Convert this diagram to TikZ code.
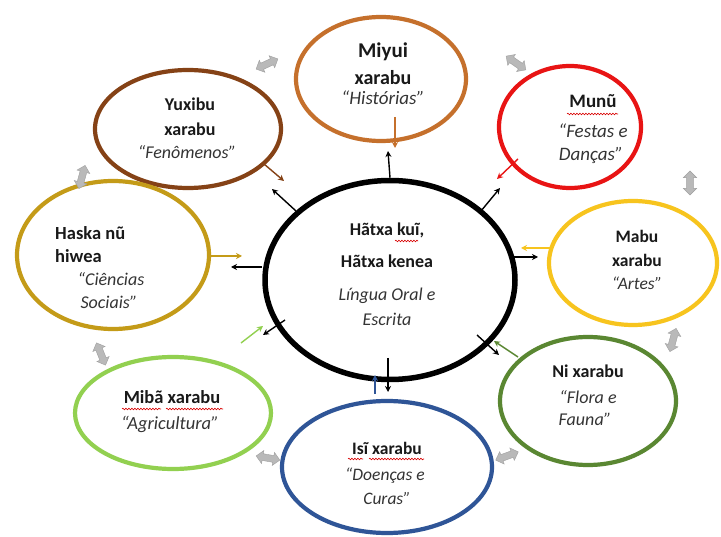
\documentclass[tikz,border=0pt]{standalone}
\usepackage{fontspec}
\setmainfont{Carlito}
\usetikzlibrary{shapes.geometric,shapes.arrows,arrows.meta,decorations.pathmorphing}
\definecolor{cMiyui}{RGB}{197,112,44}
\definecolor{cMunu}{RGB}{232,20,20}
\definecolor{cYux}{RGB}{133,66,22}
\definecolor{cHaska}{RGB}{196,155,24}
\definecolor{cMabu}{RGB}{247,196,30}
\definecolor{cNi}{RGB}{90,135,50}
\definecolor{cIsi}{RGB}{47,85,151}
\definecolor{cMiba}{RGB}{146,208,80}
\definecolor{txb}{RGB}{25,25,25}
\definecolor{txi}{RGB}{52,52,52}
\tikzset{
  ell/.style={ellipse, draw, line width=4.2pt, inner sep=0pt},
  ln/.style={inner sep=0pt, text height=12pt, text depth=4pt},
  bt/.style={ln, text=txb, font=\fontsize{#1}{21}\selectfont\bfseries},
  bt/.default=17.5,
  it/.style={ln, text=txi, font=\fontsize{#1}{21}\selectfont\itshape},
  it/.default=17.5,
  blk/.style={draw=black, line width=1.4pt, -{Stealth[length=6pt,width=6pt]}},
  carr/.style={line width=1.4pt, -{Stealth[length=6pt,width=6pt]}},
  garr/.style={double arrow, draw=gray!75, fill=gray!55, minimum height=24pt, inner sep=3.2pt, double arrow head extend=3.2pt},
  wavy/.style={draw=red!85!black, line width=0.6pt, decorate, decoration={snake, segment length=3pt, amplitude=0.8pt}},
}
\begin{document}
\begin{tikzpicture}[x=1pt,y=-1pt]
\useasboundingbox (0,0) rectangle (721,537);
\fill[white] (0,0) rectangle (721,537);

% outer ellipses
\node[ell, draw=cMiyui, minimum width=170, minimum height=124] (miyui) at (381,79) {};
\node[ell, draw=cMunu, minimum width=142, minimum height=122] (munu) at (570,127) {};
\node[ell, draw=cYux, minimum width=186, minimum height=118] (yux) at (188,129) {};
\node[ell, draw=cHaska, minimum width=192, minimum height=148] (haska) at (113,255) {};
\node[ell, draw=cMabu, minimum width=168, minimum height=124] (mabu) at (633,263) {};
\node[ell, draw=cNi, minimum width=176, minimum height=128] (ni) at (588,401) {};
\node[ell, draw=cIsi, minimum width=210, minimum height=132] (isi) at (387,467) {};
\node[ell, draw=cMiba, minimum width=196, minimum height=112] (miba) at (173,413) {};
% central ellipse
\node[ellipse, draw=black, line width=5.5pt, inner sep=0pt, minimum width=250, minimum height=199] (hub) at (390,280) {};

% grey double arrows
\node[garr, rotate=25] (g1) at (267,64) {};
\node[garr, rotate=-35] (g2) at (516,63) {};
\node[garr, rotate=90] (g3) at (690,183) {};
\node[garr, rotate=75] (g4) at (673,340) {};
\node[garr, rotate=20] (g5) at (507,456) {};
\node[garr, rotate=-10] (g6) at (268,458) {};
\node[garr, rotate=112] (g7) at (101,354) {};
\node[garr, rotate=75] (g8) at (82,177) {};

% coordinates of arrow ends
\coordinate (bT) at (388,151);
\coordinate (bULs) at (296,211);
\coordinate (bUL) at (272,189);
\coordinate (bURs) at (481,211);
\coordinate (bUR) at (500,188);
\coordinate (bRs) at (514,257);
\coordinate (bR) at (538,257);
\coordinate (bLs) at (262,267);
\coordinate (bL) at (231,267);
\coordinate (bDLs) at (285,320);
\coordinate (bDL) at (263,335);
\coordinate (bDRs) at (477,335);
\coordinate (bDR) at (499,355);
\coordinate (bBs) at (388,358);
\coordinate (bB) at (388,392);

\coordinate (cMis) at (395,117);
\coordinate (cMie) at (395,148);
\coordinate (cYus) at (264,164);
\coordinate (cYue) at (284,181);
\coordinate (cMus) at (518,159);
\coordinate (cMue) at (497,179);
\coordinate (cMas) at (551,248);
\coordinate (cMae) at (521,248);
\coordinate (cHas) at (211,256);
\coordinate (cHae) at (242,256);
\coordinate (cNis) at (518,357);
\coordinate (cNie) at (494,341);
\coordinate (cMbs) at (241,343);
\coordinate (cMbe) at (263,326);
\coordinate (cIss) at (375,394);
\coordinate (cIse) at (375,375);

% black arrows from the centre
\draw[blk] (hub.north) -- (bT);
\draw[blk] (bULs) -- (bUL);
\draw[blk] (bURs) -- (bUR);
\draw[blk] (bRs) -- (bR);
\draw[blk] (bLs) -- (bL);
\draw[blk] (bDLs) -- (bDL);
\draw[blk] (bDRs) -- (bDR);
\draw[blk] (bBs) -- (bB);

% coloured arrows towards the centre
\draw[carr, draw=cMiyui] (cMis) -- (cMie);
\draw[carr, draw=cYux] (cYus) -- (cYue);
\draw[carr, draw=cMunu] (cMus) -- (cMue);
\draw[carr, draw=cMabu] (cMas) -- (cMae);
\draw[carr, draw=cHaska] (cHas) -- (cHae);
\draw[carr, draw=cNi] (cNis) -- (cNie);
\draw[carr, draw=cMiba] (cMbs) -- (cMbe);
\draw[carr, draw=cIsi] (cIss) -- (cIse);

% texts
\node[bt=21] (t1a) at (383,54) {Miyui};
\node[bt=20] (t1b) at (383,81) {xarabu};
\node[it=19] (t1c) at (383,101) {“Histórias”};

\node[bt=19] (t2a) at (593,104) {Munũ};
\node[it=19] (t2b) at (593,134) {“Festas e};
\node[it=19] (t2c) at (591,157) {Danças”};

\node[bt=18] (t3a) at (190,107) {Yuxibu};
\node[bt=18] (t3b) at (190,132) {xarabu};
\node[it=18] (t3c) at (187,155) {“Fenômenos”};

\node[bt=18.5, anchor=west] (t4a) at (55,236) {Haska nũ};
\node[bt=18.5, anchor=west] (t4b) at (55,259) {hiwea};
\node[it=18] (t4c) at (111,282) {“Ciências};
\node[it=18] (t4d) at (109,305) {Sociais”};

\node[bt] (t5a) at (637,239) {Mabu};
\node[bt] (t5b) at (637,263) {xarabu};
\node[it] (t5c) at (637,286) {“Artes”};

\node[bt=18] (t6a) at (387,232) {Hãtxa kuĩ,};
\node[bt=18] (t6b) at (387,264) {Hãtxa kenea};
\node[it=18] (t6c) at (387,297) {Língua Oral e};
\node[it=18] (t6d) at (387,322) {Escrita};

\node[bt=18] (t7a) at (588,374) {Ni xarabu};
\node[it=18] (t7b) at (588,400) {“Flora e};
\node[it=18] (t7c) at (585,422) {Fauna”};

\node[bt] (t8a) at (387,451) {Isĩ xarabu};
\node[it] (t8b) at (385,477) {“Doenças e};
\node[it] (t8c) at (387,500) {Curas”};

\node[bt=18.5] (t9a) at (172,400) {Mibã xarabu};
\node[it=18.5] (t9b) at (170,426) {“Agricultura”};

% spell-check underlines
\draw[wavy] (567,114) -- (618,114);
\draw[wavy] (395,241) -- (418,241);
\draw[wavy] (122,409) -- (161,409);
\draw[wavy] (166,409) -- (223,409);
\draw[wavy] (348,459) -- (363,459);
\draw[wavy] (369,459) -- (424,459);
\end{tikzpicture}
\end{document}
